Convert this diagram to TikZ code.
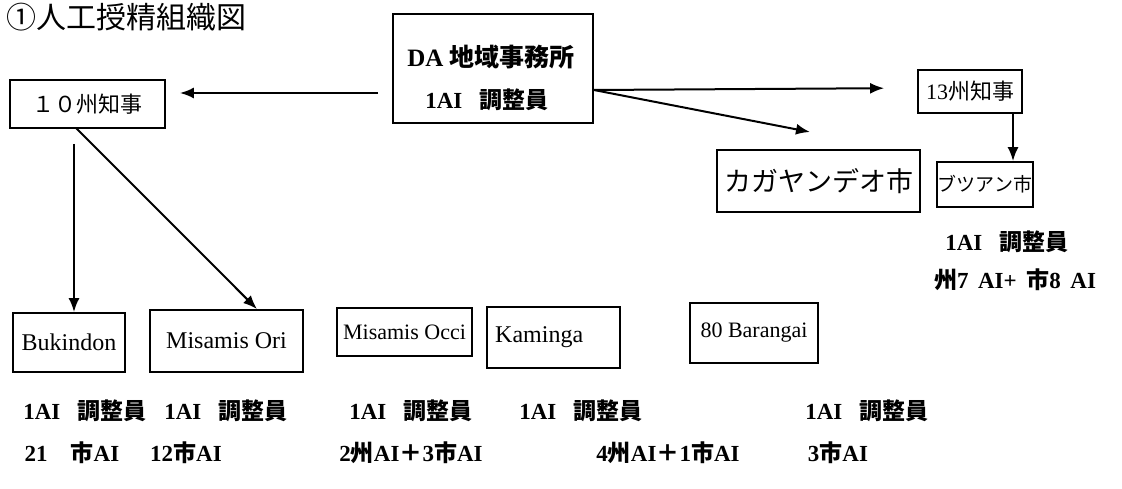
\documentclass[tikz,border=0pt]{standalone}
\usepackage{fontspec}
\setmainfont{Liberation Serif}
\newfontfamily\jp{Noto Sans CJK JP}
\usetikzlibrary{arrows.meta}
\tikzset{
  box/.style={draw, line width=1.8pt, inner sep=0pt, font=\fontsize{22}{26}\selectfont},
  lbl/.style={inner sep=0pt, font=\fontsize{23}{27}\selectfont\bfseries},
  conn/.style={line width=2pt, -{Latex[length=14pt,width=11pt]}}
}
\newcommand{\gapsp}{\hspace{0.75em}}
\begin{document}
\begin{tikzpicture}[x=1pt,y=-1pt]
\useasboundingbox (0,0) rectangle (1122,489);
% title
\node[anchor=base west, inner sep=0pt, font=\fontsize{30}{34}\selectfont\jp] (title) at (6,29) {①人工授精組織図};
% top boxes
\node[box, minimum width=200pt, minimum height=109pt] (da) at (493,68.5) {};
\node[lbl, font=\fontsize{25}{28}\selectfont\bfseries] (da1) at (491,57) {DA {\jp 地域事務所}};
\node[lbl] (da2) at (487,100) {1AI\gapsp{\jp 調整員}};
\node[box, minimum width=155pt, minimum height=48pt] (ten) at (87.5,104) {\jp １０州知事};
\node[box, minimum width=104pt, minimum height=43pt] (thr) at (970,91.5) {13{\jp 州知事}};
\node[box, minimum width=203pt, minimum height=62pt, font=\fontsize{27}{30}\selectfont] (kag) at (818.5,181) {\jp カガヤンデオ市};
\node[box, minimum width=96pt, minimum height=45pt, font=\fontsize{19}{22}\selectfont] (but) at (985,184.5) {\jp ブツアン市};
\node[lbl] (butl1) at (1007,242) {1AI\gapsp{\jp 調整員}};
\node[lbl] (butl2) at (1015,280) {{\jp 州}7\ \,AI+\ \,{\jp 市}8\ \,AI};
% bottom boxes
\node[box, minimum width=112pt, minimum height=59pt, font=\fontsize{24}{28}\selectfont] (buk) at (69,342.5) {Bukindon};
\node[box, minimum width=153pt, minimum height=62pt, font=\fontsize{24}{28}\selectfont] (mori) at (226.5,341) {Misamis Ori};
\node[box, minimum width=135pt, minimum height=48pt] (mocc) at (404.5,332) {Misamis Occi};
\node[box, minimum width=133pt, minimum height=61pt] (kam) at (553.5,337.5) {};
\begin{scope}
  \clip (487,300) rectangle (619,375);
  \node[inner sep=0pt, anchor=west, font=\fontsize{24}{28}\selectfont] (kamt) at (495,337) {Kaminga};
\end{scope}
\node[box, minimum width=128pt, minimum height=60pt] (bar) at (754,333) {80 Barangai};
% bottom labels
\node[lbl] (b1a) at (85,411) {1AI\gapsp{\jp 調整員}};
\node[lbl] (b2a) at (226,411) {1AI\gapsp{\jp 調整員}};
\node[lbl] (b3a) at (411,411) {1AI\gapsp{\jp 調整員}};
\node[lbl] (b4a) at (581,411) {1AI\gapsp{\jp 調整員}};
\node[lbl] (b5a) at (867,411) {1AI\gapsp{\jp 調整員}};
\node[lbl] (b1b) at (72,453) {21\quad{\jp 市}AI};
\node[lbl] (b2b) at (186,453) {12{\jp 市}AI};
\node[lbl] (b3b) at (411,453) {2{\jp 州}AI{\jp ＋}3{\jp 市}AI};
\node[lbl] (b4b) at (668,453) {4{\jp 州}AI{\jp ＋}1{\jp 市}AI};
\node[lbl] (b5b) at (838,453) {3{\jp 市}AI};
% connectors
\coordinate (daw) at (da.west |- 0,93);
\coordinate (dae) at (da.east |- 0,90);
\draw[conn, shorten <=14pt, shorten >=14pt] (daw) -- (ten.east |- daw);
\draw[conn, shorten >=33pt] (dae) -- (thr.west |- 0,88);
\coordinate (kagt) at (810,132);
\draw[conn] (dae) -- (kagt);
\draw[conn] (thr.south -| 1013,0) -- (but.north -| 1013,0);
\coordinate (tenb) at (74,130);
\draw[conn, shorten <=14pt] (tenb) -- (buk.north -| tenb);
\draw[conn] (76,128) -- (mori.north -| 257,0);
\end{tikzpicture}
\end{document}
